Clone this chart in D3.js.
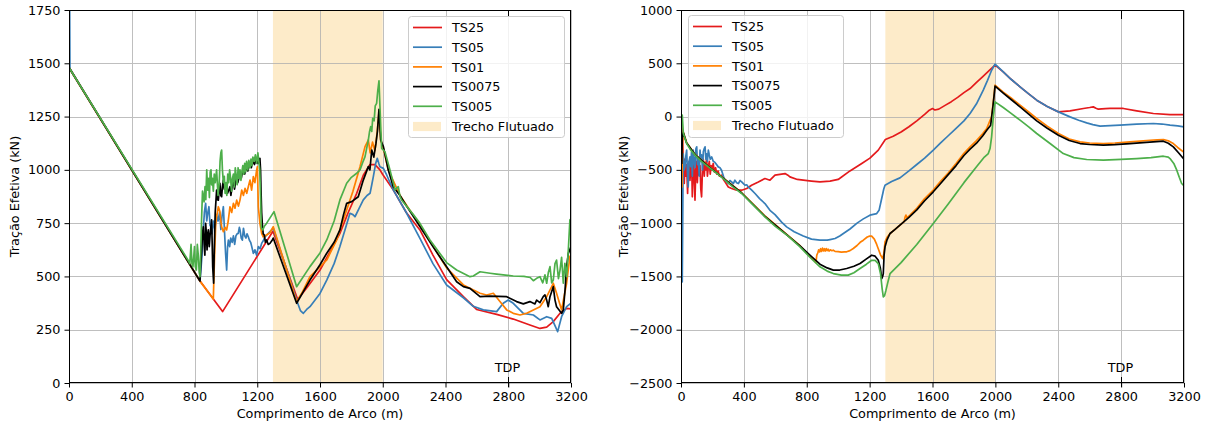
<!DOCTYPE html>
<html>
<head>
<meta charset="utf-8">
<script src="https://cdn.jsdelivr.net/npm/d3@7"></script>
<style>
  body { margin: 0; background: #ffffff; }
  svg { display: block; font-family: "DejaVu Sans", sans-serif; }
</style>
</head>
<body>
<svg id="chart" width="1212" height="425"></svg>
<script>
// ---- data ---------------------------------------------------------------
const seriesNames = ["TS25", "TS05", "TS01", "TS0075", "TS005"];
const floatedLabel = "Trecho Flutuado";
const floatedRange = [1300, 2000];
const tdpLabel = "TDP";
const tdpPosition = 2800;
const xLabel = "Comprimento de Arco (m)";
const yLabel = "Tração Efetiva (kN)";
const xTicks = [0, 400, 800, 1200, 1600, 2000, 2400, 2800, 3200];
const leftYTicks = [0, 250, 500, 750, 1000, 1250, 1500, 1750];
const rightYTicks = [-2500, -2000, -1500, -1000, -500, 0, 500, 1000];

// Left panel: [arc length (m), effective tension (kN)]
const leftTS25 = [[0,1480],[835,478],[979,335],[1300,712],[1458,392],[1520,450],[1600,530],[1660,610],[1727,702],[1780,800],[1834,890],[1876,975],[1919,1025],[1950,1025],[1982,1000],[2000,978],[2067,906],[2150,800],[2237,718],[2320,600],[2407,485],[2514,405],[2598,345],[2726,322],[2832,300],[2938,272],[3002,256],[3045,262],[3087,288],[3130,327],[3172,350],[3200,348]];

const leftTS05 = [[0,2500],[6,1475],[835,478],[848,600],[856,718],[863,800],[871,843],[878,760],[884,796],[892,827],[899,740],[905,733],[912,700],[920,760],[930,720],[940,790],[950,760],[960,800],[968,720],[975,780],[984,827],[992,700],[998,610],[1005,530],[1011,640],[1016,671],[1024,640],[1031,680],[1040,660],[1048,690],[1056,650],[1064,690],[1072,700],[1079,702],[1086,730],[1090,718],[1098,680],[1105,670],[1112,726],[1120,690],[1128,680],[1135,700],[1143,686],[1150,670],[1158,660],[1165,640],[1175,608],[1185,625],[1196,600],[1207,640],[1218,630],[1228,655],[1240,670],[1249,686],[1281,710],[1302,726],[1455,380],[1475,340],[1494,327],[1515,345],[1536,358],[1600,420],[1643,483],[1690,560],[1727,640],[1760,720],[1791,796],[1810,790],[1823,780],[1850,820],[1876,859],[1900,880],[1919,890],[1930,930],[1940,968],[1955,1030],[1965,1054],[1975,1030],[1982,1015],[2004,1007],[2025,976],[2067,906],[2150,800],[2237,679],[2320,560],[2407,460],[2514,400],[2577,360],[2641,343],[2726,335],[2768,374],[2800,389],[2832,374],[2896,327],[2960,319],[3002,296],[3045,311],[3077,303],[3115,241],[3140,311],[3172,358],[3200,374]];

const leftTS01 = [[0,1480],[835,478],[920,394],[928,600],[935,740],[941,780],[952,827],[962,804],[968,760],[973,733],[984,710],[995,730],[1005,718],[1015,760],[1026,827],[1037,800],[1048,843],[1058,820],[1069,858],[1080,830],[1090,858],[1101,905],[1112,880],[1122,913],[1133,890],[1143,921],[1154,952],[1164,905],[1175,968],[1185,940],[1196,999],[1201,1015],[1207,827],[1217,749],[1228,702],[1238,686],[1249,690],[1281,705],[1302,733],[1451,380],[1490,430],[1536,499],[1600,545],[1643,577],[1706,671],[1770,812],[1810,900],[1855,1015],[1887,1109],[1908,1140],[1920,1080],[1935,1130],[1950,1090],[1965,1180],[1976,1270],[1987,1140],[2004,1100],[2035,1000],[2110,880],[2237,740],[2407,540],[2514,460],[2620,421],[2662,413],[2705,421],[2747,382],[2790,343],[2832,327],[2875,319],[2917,327],[2960,343],[3002,358],[3045,405],[3077,452],[3087,468],[3108,421],[3140,343],[3172,468],[3193,593],[3200,600]];

const leftTS0075 = [[0,1480],[835,478],[840,560],[846,624],[851,700],[856,733],[862,650],[866,600],[871,749],[876,700],[880,624],[884,690],[888,718],[894,640],[900,700],[909,765],[913,650],[916,546],[922,468],[926,620],[932,800],[941,905],[946,860],[952,858],[957,900],[962,937],[968,880],[973,874],[978,920],[984,952],[990,910],[995,920],[1005,937],[1010,890],[1016,900],[1026,921],[1032,880],[1040,920],[1048,952],[1055,910],[1062,940],[1069,968],[1076,940],[1083,960],[1090,984],[1098,960],[1104,985],[1111,991],[1120,980],[1126,1000],[1133,1007],[1140,995],[1147,1015],[1154,1023],[1162,1010],[1168,1030],[1175,1038],[1182,1025],[1190,1040],[1196,1046],[1205,1030],[1212,1050],[1217,1054],[1221,1000],[1224,905],[1228,800],[1232,749],[1238,700],[1245,694],[1252,660],[1260,671],[1270,650],[1281,655],[1296,671],[1302,680],[1451,374],[1536,483],[1600,555],[1643,609],[1690,660],[1727,718],[1750,790],[1770,843],[1802,851],[1844,874],[1876,952],[1908,1015],[1918,1000],[1930,1093],[1943,1060],[1957,1125],[1966,1180],[1976,1284],[1987,1140],[2004,1109],[2035,1000],[2067,921],[2110,880],[2152,830],[2237,734],[2320,640],[2407,545],[2471,475],[2514,452],[2556,444],[2620,405],[2683,408],[2790,405],[2853,382],[2896,371],[2938,382],[2970,371],[2981,389],[3002,377],[3023,405],[3034,413],[3045,389],[3055,358],[3066,405],[3087,452],[3098,389],[3108,358],[3140,327],[3151,343],[3162,436],[3172,546],[3183,608],[3200,640]];

const leftTS005 = [[0,1480],[760,575],[770,560],[778,650],[784,560],[790,545],[796,600],[800,640],[805,545],[812,530],[818,650],[824,600],[830,520],[835,499],[840,620],[845,765],[851,900],[856,874],[861,850],[867,921],[872,860],[878,1000],[884,905],[890,960],[895,870],[900,990],[905,1000],[909,930],[914,960],[920,900],[926,980],[932,940],[941,1000],[950,880],[957,930],[963,1040],[968,1080],[973,1093],[978,1000],[984,940],[990,970],[995,890],[1001,940],[1006,880],[1012,980],[1018,940],[1024,1000],[1030,960],[1036,900],[1042,960],[1048,980],[1054,920],[1060,1010],[1066,970],[1072,930],[1078,1010],[1084,960],[1090,1000],[1096,950],[1102,990],[1108,1020],[1114,980],[1120,1030],[1126,990],[1132,1040],[1140,1000],[1146,1045],[1154,1010],[1160,1050],[1166,1020],[1172,1060],[1180,1040],[1188,1070],[1196,1030],[1204,1080],[1210,1040],[1216,1000],[1222,850],[1226,727],[1235,718],[1245,735],[1260,750],[1307,804],[1451,452],[1536,546],[1600,610],[1643,671],[1690,760],[1727,859],[1770,937],[1800,965],[1834,984],[1855,1000],[1875,1040],[1887,1062],[1900,1110],[1908,1140],[1916,1180],[1923,1203],[1930,1180],[1936,1242],[1945,1230],[1952,1300],[1961,1312],[1968,1370],[1976,1418],[1982,1300],[1987,1203],[1993,1101],[2014,1085],[2046,1000],[2078,906],[2089,915],[2099,921],[2110,874],[2120,859],[2195,790],[2237,749],[2301,671],[2407,565],[2471,530],[2556,499],[2577,502],[2620,522],[2684,515],[2726,511],[2832,502],[2900,500],[2940,495],[2960,480],[2981,491],[3002,499],[3020,470],[3034,507],[3045,468],[3056,520],[3066,546],[3077,470],[3087,483],[3098,560],[3108,577],[3120,490],[3130,530],[3140,590],[3151,468],[3161,561],[3172,499],[3183,624],[3193,765],[3200,770]];

// Right panel: [arc length (m), effective tension (kN)]
const rightTS25 = [[0,-40],[10,-200],[15,-450],[21,-628],[25,-400],[30,-560],[36,-450],[42,-722],[46,-500],[52,-420],[57,-600],[62,-480],[67,-380],[72,-753],[77,-520],[82,-450],[89,-785],[94,-500],[99,-420],[104,-620],[110,-380],[115,-550],[121,-460],[126,-680],[131,-753],[137,-480],[142,-400],[148,-560],[153,-430],[158,-500],[163,-378],[168,-560],[174,-470],[180,-420],[186,-540],[192,-460],[198,-500],[205,-440],[212,-520],[220,-480],[228,-540],[236,-510],[245,-560],[258,-550],[270,-590],[280,-613],[301,-660],[322,-675],[354,-691],[386,-691],[418,-675],[449,-644],[492,-613],[534,-581],[566,-597],[598,-550],[640,-540],[662,-535],[680,-550],[693,-566],[740,-590],[778,-597],[830,-605],[884,-613],[948,-605],[1000,-590],[1075,-510],[1150,-440],[1202,-390],[1255,-315],[1300,-215],[1350,-185],[1400,-145],[1450,-95],[1500,-40],[1550,20],[1580,60],[1600,75],[1615,62],[1640,70],[1680,105],[1720,140],[1760,180],[1800,225],[1839,263],[1880,320],[1920,375],[1960,430],[1998,482],[2050,420],[2100,350],[2157,279],[2210,215],[2263,154],[2330,95],[2401,44],[2475,54],[2560,76],[2600,85],[2623,91],[2640,78],[2655,69],[2700,75],[2729,76],[2814,76],[2899,54],[3005,29],[3111,19],[3200,18]];

const rightTS05 = [[0,-60],[8,-1551],[14,-350],[20,-500],[25,-472],[30,-380],[36,-315],[41,-520],[46,-660],[51,-420],[57,-378],[62,-470],[67,-330],[72,-560],[78,-315],[83,-420],[89,-480],[95,-300],[100,-284],[105,-450],[110,-380],[116,-560],[121,-315],[126,-420],[131,-360],[137,-500],[142,-330],[148,-300],[153,-284],[158,-400],[163,-350],[168,-420],[174,-315],[180,-360],[186,-400],[195,-378],[205,-420],[216,-430],[226,-450],[237,-472],[248,-480],[258,-503],[270,-560],[280,-597],[290,-610],[301,-628],[311,-600],[322,-613],[333,-630],[343,-597],[354,-620],[365,-628],[376,-600],[386,-613],[397,-630],[407,-644],[418,-640],[428,-660],[450,-690],[471,-722],[500,-770],[534,-816],[566,-880],[598,-920],[640,-990],[672,-1035],[720,-1080],[778,-1120],[830,-1150],[884,-1160],[930,-1160],[948,-1154],[980,-1144],[1010,-1120],[1040,-1090],[1075,-1055],[1120,-1000],[1160,-960],[1202,-925],[1245,-910],[1260,-880],[1275,-780],[1290,-680],[1298,-644],[1340,-610],[1393,-575],[1450,-510],[1500,-450],[1550,-390],[1605,-315],[1650,-250],[1700,-180],[1750,-110],[1800,-40],[1839,29],[1880,120],[1923,248],[1950,340],[1976,435],[1998,492],[2050,420],[2100,350],[2157,279],[2210,215],[2263,154],[2330,95],[2401,44],[2475,-3],[2530,-35],[2581,-59],[2620,-75],[2666,-90],[2730,-85],[2793,-81],[2899,-71],[3005,-65],[3060,-70],[3111,-81],[3160,-88],[3200,-96]];

const rightTS01 = [[0,-20],[4,-160],[6,-660],[9,-250],[15,-150],[36,-245],[89,-355],[174,-465],[280,-590],[386,-715],[534,-933],[757,-1212],[850,-1355],[858,-1370],[864,-1300],[870,-1280],[876,-1250],[882,-1270],[888,-1240],[894,-1265],[900,-1235],[906,-1260],[912,-1240],[918,-1262],[924,-1238],[930,-1258],[936,-1245],[942,-1262],[950,-1250],[960,-1258],[969,-1254],[980,-1265],[1000,-1268],[1020,-1272],[1040,-1270],[1054,-1269],[1075,-1258],[1096,-1238],[1120,-1210],[1140,-1180],[1160,-1160],[1185,-1130],[1200,-1122],[1213,-1122],[1230,-1150],[1245,-1200],[1255,-1240],[1270,-1300],[1283,-1332],[1290,-1290],[1298,-1175],[1310,-1135],[1330,-1097],[1360,-1060],[1393,-1019],[1420,-985],[1425,-945],[1431,-925],[1438,-950],[1460,-920],[1500,-860],[1550,-770],[1605,-690],[1650,-610],[1700,-530],[1750,-440],[1800,-345],[1839,-284],[1880,-225],[1920,-160],[1945,-112],[1965,-40],[1976,-3],[1988,150],[1998,295],[2050,230],[2100,175],[2157,107],[2210,45],[2263,-18],[2330,-90],[2401,-159],[2470,-210],[2539,-237],[2600,-248],[2687,-253],[2760,-248],[2856,-237],[2920,-230],[2984,-222],[3030,-218],[3069,-215],[3100,-228],[3132,-253],[3160,-290],[3196,-331],[3200,-335]];

const rightTS0075 = [[0,-30],[3,-160],[5,-440],[8,-200],[15,-152],[36,-247],[89,-357],[174,-467],[280,-592],[386,-717],[534,-936],[757,-1214],[820,-1300],[884,-1385],[930,-1420],[969,-1441],[1010,-1440],[1054,-1426],[1100,-1405],[1139,-1379],[1180,-1335],[1213,-1301],[1235,-1310],[1255,-1348],[1268,-1420],[1277,-1520],[1283,-1500],[1287,-1473],[1292,-1300],[1298,-1222],[1310,-1160],[1330,-1097],[1360,-1060],[1393,-1019],[1450,-945],[1500,-875],[1550,-790],[1605,-706],[1650,-630],[1700,-545],[1750,-460],[1800,-365],[1839,-306],[1880,-250],[1920,-180],[1945,-128],[1970,-81],[1985,100],[1998,285],[2050,220],[2100,160],[2157,91],[2210,25],[2263,-40],[2330,-110],[2401,-175],[2470,-225],[2539,-253],[2600,-262],[2687,-268],[2760,-263],[2856,-253],[2960,-243],[3069,-231],[3100,-250],[3132,-284],[3165,-340],[3196,-394],[3200,-397]];

const rightTS005 = [[0,13],[8,13],[15,-159],[36,-253],[60,-310],[89,-362],[130,-420],[174,-472],[230,-535],[280,-597],[330,-660],[386,-722],[460,-830],[534,-941],[600,-1030],[680,-1120],[757,-1222],[820,-1320],[884,-1410],[930,-1450],[969,-1473],[1020,-1487],[1064,-1488],[1100,-1465],[1139,-1426],[1180,-1385],[1213,-1348],[1235,-1350],[1255,-1379],[1270,-1480],[1280,-1620],[1287,-1692],[1295,-1680],[1304,-1629],[1315,-1560],[1330,-1473],[1400,-1370],[1500,-1200],[1605,-1003],[1700,-820],[1800,-620],[1880,-470],[1930,-380],[1955,-347],[1966,-300],[1976,-190],[1987,0],[1998,138],[2050,85],[2100,30],[2157,-34],[2210,-95],[2263,-159],[2350,-255],[2432,-347],[2500,-385],[2581,-403],[2687,-409],[2800,-402],[2899,-394],[2990,-385],[3069,-372],[3100,-380],[3111,-394],[3135,-440],[3154,-503],[3170,-570],[3185,-628],[3196,-644],[3200,-645]];

// ---- styling ------------------------------------------------------------
const seriesColors = ["#e41a1c", "#377eb8", "#ff7f00", "#000000", "#4daf4a"];
const shadeColor = "#fdebc9";
const gridColor = "#b0b0b0";
const fontSize = 12.8;

const svg = d3.select("#chart");

function drawPanel(cfg) {
  const x = d3.scaleLinear().domain([0, 3200]).range([cfg.left, cfg.right]);
  const y = d3.scaleLinear().domain(cfg.yDomain).range([cfg.bottom, cfg.top]);
  const g = svg.append("g");
  const clipId = "clip-" + cfg.id;
  svg.append("clipPath").attr("id", clipId)
    .append("rect")
    .attr("x", cfg.left).attr("y", cfg.top)
    .attr("width", cfg.right - cfg.left).attr("height", cfg.bottom - cfg.top);

  // floated section band
  g.append("rect")
    .attr("x", x(floatedRange[0])).attr("y", cfg.top)
    .attr("width", x(floatedRange[1]) - x(floatedRange[0]))
    .attr("height", cfg.bottom - cfg.top)
    .attr("fill", shadeColor);

  // grid
  const grid = g.append("g").attr("stroke", gridColor).attr("stroke-width", 1).attr("opacity", 0.8);
  xTicks.forEach(t => {
    const px = Math.round(x(t)) + 0.5;
    grid.append("line").attr("x1", px).attr("x2", px).attr("y1", cfg.top).attr("y2", cfg.bottom);
  });
  cfg.yTicks.forEach(t => {
    const py = Math.round(y(t)) + 0.5;
    grid.append("line").attr("x1", cfg.left).attr("x2", cfg.right).attr("y1", py).attr("y2", py);
  });

  // series
  const line = d3.line().x(d => x(d[0])).y(d => y(d[1]));
  const lines = g.append("g").attr("clip-path", `url(#${clipId})`);
  cfg.series.forEach((s, i) => {
    lines.append("path").datum(s)
      .attr("d", line)
      .attr("fill", "none")
      .attr("stroke", seriesColors[i])
      .attr("stroke-width", 1.7)
      .attr("stroke-linejoin", "round");
  });

  // axes
  const xAxis = d3.axisBottom(x).tickValues(xTicks).tickSize(4.5).tickPadding(4).tickFormat(d3.format("d"));
  const yAxis = d3.axisLeft(y).tickValues(cfg.yTicks).tickSize(4.5).tickPadding(4)
    .tickFormat(d => (d < 0 ? "\u2212" + Math.abs(d) : String(d)));
  const gx = g.append("g").attr("transform", `translate(0,${cfg.bottom})`).call(xAxis);
  const gy = g.append("g").attr("transform", `translate(${cfg.left},0)`).call(yAxis);
  [gx, gy].forEach(a => {
    a.select(".domain").remove();
    a.selectAll("text").attr("font-size", fontSize).attr("font-family", "DejaVu Sans").attr("fill", "#000");
    a.selectAll("line").attr("stroke", "#000").attr("stroke-width", 1);
  });

  // frame
  g.append("rect")
    .attr("x", cfg.left + 0.5).attr("y", cfg.top + 0.5)
    .attr("width", cfg.right - cfg.left - 1).attr("height", cfg.bottom - cfg.top - 1)
    .attr("fill", "none").attr("stroke", "#000").attr("stroke-width", 1);

  // TDP marker
  const tx = Math.round(x(tdpPosition)) + 0.5;
  g.append("text").attr("x", tx - 1).attr("y", cfg.bottom - 11)
    .attr("text-anchor", "middle").attr("font-size", fontSize).text(tdpLabel);
  g.append("line").attr("x1", tx).attr("x2", tx).attr("y1", cfg.bottom - 6).attr("y2", cfg.bottom + 4)
    .attr("stroke", "#000").attr("stroke-width", 1);
  g.append("line").attr("x1", tx).attr("x2", tx).attr("y1", cfg.top).attr("y2", cfg.top + cfg.tdpTopTick)
    .attr("stroke", "#000").attr("stroke-width", 1);

  // axis labels
  g.append("text").attr("x", (cfg.left + cfg.right) / 2).attr("y", 418)
    .attr("text-anchor", "middle").attr("font-size", fontSize).text(xLabel);
  g.append("text")
    .attr("transform", `translate(${cfg.yLabelX},${(cfg.top + cfg.bottom) / 2}) rotate(-90)`)
    .attr("text-anchor", "middle").attr("font-size", fontSize).text(yLabel);

  // legend
  const lg = g.append("g");
  lg.append("rect")
    .attr("x", cfg.legend.x + 0.5).attr("y", cfg.legend.y + 0.5)
    .attr("width", cfg.legend.w).attr("height", cfg.legend.h)
    .attr("rx", 3).attr("fill", "#fff").attr("fill-opacity", 0.8)
    .attr("stroke", "#cccccc").attr("stroke-width", 1);
  const rowY = k => cfg.legend.y + 11.5 + k * 19.7;
  const hx = cfg.legend.x + 5;
  seriesNames.forEach((name, k) => {
    lg.append("line").attr("x1", hx).attr("x2", hx + 29)
      .attr("y1", rowY(k)).attr("y2", rowY(k))
      .attr("stroke", seriesColors[k]).attr("stroke-width", 1.7);
    lg.append("text").attr("x", hx + 39).attr("y", rowY(k) + 4.6)
      .attr("font-size", fontSize).text(name);
  });
  const py = rowY(5) + 0.5;
  lg.append("rect").attr("x", hx).attr("y", py - 4.6).attr("width", 28).attr("height", 9.2)
    .attr("fill", shadeColor);
  lg.append("text").attr("x", hx + 39).attr("y", py + 4.6)
    .attr("font-size", fontSize).text(floatedLabel);
}

drawPanel({
  id: "left", left: 69, right: 571, top: 10, bottom: 383,
  yDomain: [0, 1750], yTicks: leftYTicks, yLabelX: 19, tdpTopTick: 7,
  series: [leftTS25, leftTS05, leftTS01, leftTS0075, leftTS005],
  legend: { x: 408, y: 16, w: 156, h: 121 }
});
drawPanel({
  id: "right", left: 681, right: 1184, top: 10, bottom: 383,
  yDomain: [-2500, 1000], yTicks: rightYTicks, yLabelX: 628, tdpTopTick: 9,
  series: [rightTS25, rightTS05, rightTS01, rightTS0075, rightTS005],
  legend: { x: 688, y: 15, w: 155, h: 122 }
});
</script>
</body>
</html>
